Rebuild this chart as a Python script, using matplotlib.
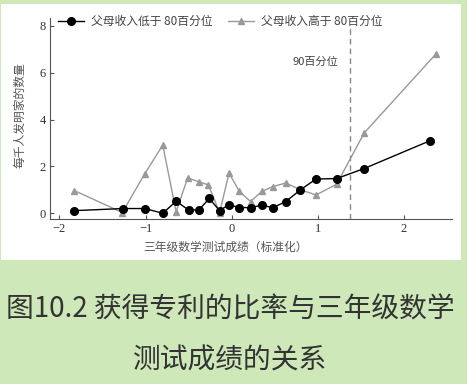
import matplotlib.pyplot as plt
from matplotlib.patches import Rectangle

plt.rcParams['font.family'] = ['Noto Sans CJK SC', 'DejaVu Sans']

# 标准化成绩（横轴）
x_low = [-1.83, -1.26, -1.01, -0.80, -0.645, -0.50, -0.38, -0.26, -0.14, -0.03,
         0.09, 0.22, 0.35, 0.48, 0.63, 0.80, 0.98, 1.22, 1.54, 2.30]
y_low = [0.11, 0.20, 0.20, 0.00, 0.51, 0.14, 0.14, 0.63, 0.11, 0.37,
         0.24, 0.24, 0.34, 0.24, 0.50, 1.00, 1.46, 1.48, 1.91, 3.09]

x_high = [-1.83, -1.27, -1.01, -0.80, -0.645, -0.51, -0.38, -0.27, -0.14, -0.03,
          0.09, 0.22, 0.35, 0.48, 0.63, 0.80, 0.98, 1.22, 1.54, 2.37]
y_high = [0.97, 0.03, 1.68, 2.91, 0.06, 1.51, 1.34, 1.21, 0.03, 1.71,
          0.93, 0.50, 0.93, 1.14, 1.29, 1.00, 0.78, 1.24, 3.43, 6.79]

x_ticks = [-2, -1, 0, 1, 2]
y_ticks = [0, 2, 4, 6, 8]
pct90 = 1.38

W, H = 467, 384
fig = plt.figure(figsize=(W / 100, H / 100), dpi=100)
fig.patch.set_facecolor('#cee8ba')

# 白色底板
fig.patches.append(Rectangle((1 / W, 1 - 260 / H), 460 / W, 256 / H,
                             transform=fig.transFigure, facecolor='white',
                             edgecolor='none', zorder=-5))

ax = fig.add_axes([50 / W, 1 - 219.3 / H, 402 / W, 201.3 / H])
ax.set_facecolor('none')
ax.set_zorder(2)

ax.plot(x_low, y_low, color='black', lw=1, marker='o', ms=5.5,
        label='父母收入低于 80百分位', zorder=3)
ax.plot(x_high, y_high, color='#999999', lw=1, marker='^', ms=4.5,
        label='父母收入高于 80百分位', zorder=2)

ax.plot([pct90, pct90], [-0.26, 7.95], color='#888888', lw=1,
        linestyle=(0, (4, 3)), zorder=1)
ax.text(1.24, 6.49, '90百分位', ha='right', va='center', fontsize=8,
        color='#444444')

ax.set_xlim(-2.11, 2.56)
ax.set_ylim(-0.26, 8.34)
ax.set_xticks(x_ticks)
ax.set_yticks(y_ticks)
ax.set_xticklabels(['\u22122', '\u22121', '0', '1', '2'])
for lab in ax.get_xticklabels() + ax.get_yticklabels():
    lab.set_family('Liberation Serif')
    lab.set_fontsize(9)
    lab.set_color('#333333')
ax.tick_params(direction='in', length=3, width=0.8, color='#555555', pad=3)
for s in ['top', 'right']:
    ax.spines[s].set_visible(False)
for s in ['left', 'bottom']:
    ax.spines[s].set_color('#555555')
    ax.spines[s].set_linewidth(0.8)

fig.text(20 / W, 1 - 115 / H, '每千人发明家的数量', rotation=90, ha='center',
         va='center', fontsize=8.5, color='#555555')
fig.text(226 / W, 1 - 247 / H, '三年级数学测试成绩（标准化）', ha='center',
         va='center', fontsize=8.5, color='#555555')

ax.legend(loc='upper left', bbox_to_anchor=(58 / W, 1 - 15 / H),
          bbox_transform=fig.transFigure, ncol=2, frameon=False, fontsize=8.5,
          handlelength=2.2, handletextpad=0.6, columnspacing=1.3,
          borderpad=0, borderaxespad=0, labelcolor='#444444')

fig.text(230.5 / W, 1 - 310 / H, '图10.2 获得专利的比率与三年级数学', ha='center',
         va='center', fontsize=20, color='#333333')
fig.text(230 / W, 1 - 360 / H, '测试成绩的关系', ha='center', va='center',
         fontsize=20, color='#333333')

fig.savefig('out.png', dpi=100, facecolor=fig.get_facecolor())
